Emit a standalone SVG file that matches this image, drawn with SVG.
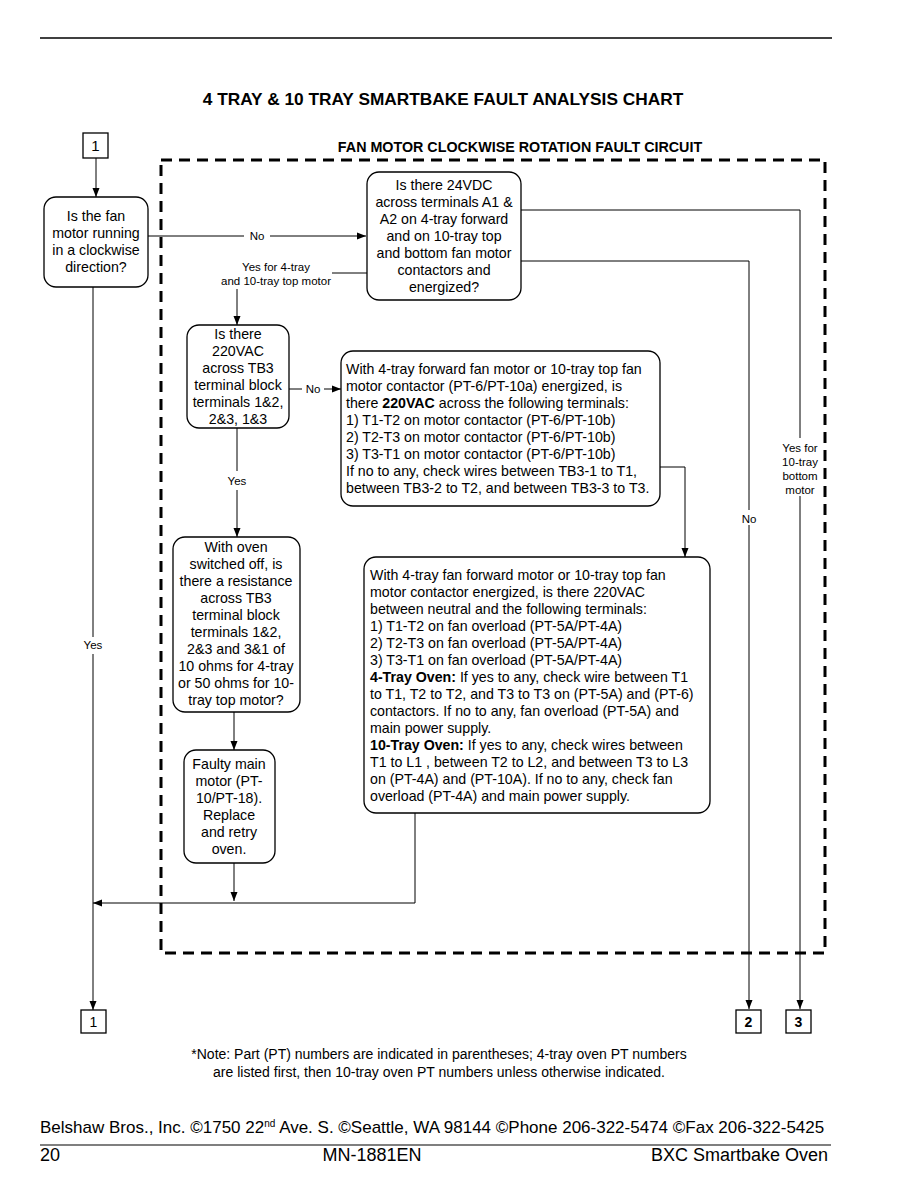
<svg xmlns="http://www.w3.org/2000/svg" width="918" height="1188" viewBox="0 0 918 1188">
<defs>
<marker id="ah" markerWidth="10" markerHeight="10" refX="9" refY="5" orient="auto" markerUnits="userSpaceOnUse">
<path d="M0,1.5 L9,5 L0,8.5 Z" fill="#000"/>
</marker>
<style>
.n{fill:#fff;stroke:#000;stroke-width:1.3}
.t{font-family:"Liberation Sans",Arial,sans-serif;font-size:14.2px;fill:#000}
.c{text-anchor:middle}
.s{font-family:"Liberation Sans",Arial,sans-serif;font-size:11.5px;fill:#000;text-anchor:middle}
.w{fill:none;stroke:#000;stroke-width:1}
.a{fill:none;stroke:#000;stroke-width:1;marker-end:url(#ah)}
.b{font-weight:bold}
.dash{fill:none;stroke:#000;stroke-width:3;stroke-dasharray:11 7}
</style>
</defs>
<rect width="918" height="1188" fill="#fff"/>
<line x1="40" y1="38" x2="832" y2="38" stroke="#000" stroke-width="1.5"/>
<text x="443" y="105" class="t c b" style="font-size:17.3px">4 TRAY &amp; 10 TRAY SMARTBAKE FAULT ANALYSIS CHART</text>
<text x="520" y="152" class="t c b" style="font-size:14.3px">FAN MOTOR CLOCKWISE ROTATION FAULT CIRCUIT</text>
<path class="dash" d="M161,160 H825 V953 H161 Z"/>

<g id="connectors">
<line class="a" x1="96" y1="158" x2="96" y2="197"/>
<line class="w" x1="148" y1="236" x2="244" y2="236"/>
<line class="a" x1="270" y1="236" x2="366" y2="236"/>
<text x="257" y="240" class="s">No</text>
<line class="w" x1="332" y1="273" x2="367" y2="273"/>
<text x="276" y="271" class="s">Yes for 4-tray</text>
<text x="276" y="285" class="s">and 10-tray top motor</text>
<line class="a" x1="237" y1="289" x2="237" y2="325"/>
<polyline class="a" points="521,210 800,210 800,1009"/>
<polyline class="a" points="521,261 749,261 749,1009"/>
<rect x="737" y="510" width="24" height="15" fill="#fff"/>
<text x="749" y="523" class="s">No</text>
<rect x="778" y="438" width="44" height="58" fill="#fff"/>
<text x="800" y="452" class="s">Yes for</text>
<text x="800" y="466" class="s">10-tray</text>
<text x="800" y="480" class="s">bottom</text>
<text x="800" y="494" class="s">motor</text>
<line class="w" x1="289" y1="389" x2="302" y2="389"/>
<line class="a" x1="324" y1="389" x2="341" y2="389"/>
<text x="313" y="393" class="s">No</text>
<polyline class="a" points="660,467 685,467 685,557"/>
<line class="w" x1="237" y1="428" x2="237" y2="471"/>
<line class="a" x1="237" y1="490" x2="237" y2="537"/>
<text x="237" y="485" class="s">Yes</text>
<line class="a" x1="234" y1="712" x2="234" y2="750"/>
<line class="a" x1="234" y1="863" x2="234" y2="901"/>
<polyline class="a" points="415,813 415,903 93,903"/>
<line class="w" x1="93" y1="287" x2="93" y2="637"/>
<line class="a" x1="93" y1="654" x2="93" y2="1010"/>
<text x="93" y="649" class="s">Yes</text>
</g>

<g id="start1">
<rect x="83" y="133" width="25" height="25" class="n"/>
<text x="95.5" y="151" class="t c" style="font-size:15px">1</text>
</g>

<g id="nodeA">
<rect x="44" y="197" width="104" height="90" rx="12" class="n"/>
<text class="t c"><tspan x="96" y="221">Is the fan</tspan><tspan x="96" y="238">motor running</tspan><tspan x="96" y="255">in a clockwise</tspan><tspan x="96" y="272">direction?</tspan></text>
</g>

<g id="nodeB">
<rect x="367" y="172" width="154" height="128" rx="12" class="n"/>
<text class="t c"><tspan x="444" y="190">Is there 24VDC</tspan><tspan x="444" y="207">across terminals A1 &amp;</tspan><tspan x="444" y="224">A2 on 4-tray forward</tspan><tspan x="444" y="241">and on 10-tray top</tspan><tspan x="444" y="258">and bottom fan motor</tspan><tspan x="444" y="275">contactors and</tspan><tspan x="444" y="292">energized?</tspan></text>
</g>

<g id="nodeC">
<rect x="187" y="325" width="102" height="103" rx="12" class="n"/>
<text class="t c"><tspan x="238" y="339">Is there</tspan><tspan x="238" y="356">220VAC</tspan><tspan x="238" y="373">across TB3</tspan><tspan x="238" y="390">terminal block</tspan><tspan x="238" y="407">terminals 1&amp;2,</tspan><tspan x="238" y="424">2&amp;3, 1&amp;3</tspan></text>
</g>

<g id="nodeD">
<rect x="341" y="351" width="319" height="155" rx="12" class="n"/>
<text class="t"><tspan x="346" y="374">With 4-tray forward fan motor or 10-tray top fan</tspan><tspan x="346" y="391">motor contactor (PT-6/PT-10a) energized, is</tspan><tspan x="346" y="408">there <tspan class="b">220VAC</tspan> across the following terminals:</tspan><tspan x="346" y="425">1) T1-T2 on motor contactor (PT-6/PT-10b)</tspan><tspan x="346" y="442">2) T2-T3 on motor contactor (PT-6/PT-10b)</tspan><tspan x="346" y="459">3) T3-T1 on motor contactor (PT-6/PT-10b)</tspan><tspan x="346" y="476">If no to any, check wires between TB3-1 to T1,</tspan><tspan x="346" y="493">between TB3-2 to T2, and between TB3-3 to T3.</tspan></text>
</g>

<g id="nodeE">
<rect x="173" y="537" width="127" height="175" rx="12" class="n"/>
<text class="t c"><tspan x="236" y="552">With oven</tspan><tspan x="236" y="569">switched off, is</tspan><tspan x="236" y="586">there a resistance</tspan><tspan x="236" y="603">across TB3</tspan><tspan x="236" y="620">terminal block</tspan><tspan x="236" y="637">terminals 1&amp;2,</tspan><tspan x="236" y="654">2&amp;3 and 3&amp;1 of</tspan><tspan x="236" y="671">10 ohms for 4-tray</tspan><tspan x="236" y="688">or 50 ohms for 10-</tspan><tspan x="236" y="705">tray top motor?</tspan></text>
</g>

<g id="nodeF">
<rect x="364" y="557" width="346" height="256" rx="12" class="n"/>
<text class="t"><tspan x="370" y="580">With 4-tray fan forward motor or 10-tray top fan</tspan><tspan x="370" y="597">motor contactor energized, is there 220VAC</tspan><tspan x="370" y="614">between neutral and the following terminals:</tspan><tspan x="370" y="631">1) T1-T2 on fan overload (PT-5A/PT-4A)</tspan><tspan x="370" y="648">2) T2-T3 on fan overload (PT-5A/PT-4A)</tspan><tspan x="370" y="665">3) T3-T1 on fan overload (PT-5A/PT-4A)</tspan><tspan x="370" y="682"><tspan class="b">4-Tray Oven:</tspan> If yes to any, check wire between T1</tspan><tspan x="370" y="699">to T1, T2 to T2, and T3 to T3 on (PT-5A) and (PT-6)</tspan><tspan x="370" y="716">contactors. If no to any, fan overload (PT-5A) and</tspan><tspan x="370" y="733">main power supply.</tspan><tspan x="370" y="750"><tspan class="b">10-Tray Oven:</tspan> If yes to any, check wires between</tspan><tspan x="370" y="767">T1 to L1 , between T2 to L2, and between T3 to L3</tspan><tspan x="370" y="784">on (PT-4A) and (PT-10A).  If no to any, check fan</tspan><tspan x="370" y="801">overload (PT-4A) and main power supply.</tspan></text>
</g>

<g id="nodeG">
<rect x="184" y="750" width="91" height="113" rx="12" class="n"/>
<text class="t c"><tspan x="229" y="769">Faulty main</tspan><tspan x="229" y="786">motor (PT-</tspan><tspan x="229" y="803">10/PT-18).</tspan><tspan x="229" y="820">Replace</tspan><tspan x="229" y="837">and retry</tspan><tspan x="229" y="854">oven.</tspan></text>
</g>

<g id="end1">
<rect x="81" y="1010" width="25" height="23" class="n"/>
<text x="93.5" y="1027" class="t c" style="font-size:14px">1</text>
</g>
<g id="end2">
<rect x="736" y="1010" width="25" height="23" class="n"/>
<text x="748.5" y="1027" class="t c b" style="font-size:14px">2</text>
</g>
<g id="end3">
<rect x="786" y="1010" width="25" height="23" class="n"/>
<text x="798.5" y="1027" class="t c b" style="font-size:14px">3</text>
</g>

<text class="t c" style="font-size:14px"><tspan x="439" y="1059">*Note: Part (PT) numbers are indicated in parentheses; 4-tray oven PT numbers</tspan><tspan x="439" y="1077">are listed first, then 10-tray oven PT numbers unless otherwise indicated.</tspan></text>

<text x="40" y="1133" class="t" style="font-size:17px">Belshaw Bros., Inc. ©1750 22<tspan dy="-6" style="font-size:10px">nd</tspan><tspan dy="6"> Ave. S. ©Seattle, WA 98144 ©Phone 206-322-5474 ©Fax 206-322-5425</tspan></text>
<line x1="40" y1="1145" x2="831" y2="1145" stroke="#000" stroke-width="1.2"/>
<text x="40" y="1161" class="t" style="font-size:18px">20</text>
<text x="372" y="1161" class="t c" style="font-size:18px">MN-1881EN</text>
<text x="828" y="1161" class="t" style="font-size:18px;text-anchor:end">BXC Smartbake Oven</text>
</svg>
